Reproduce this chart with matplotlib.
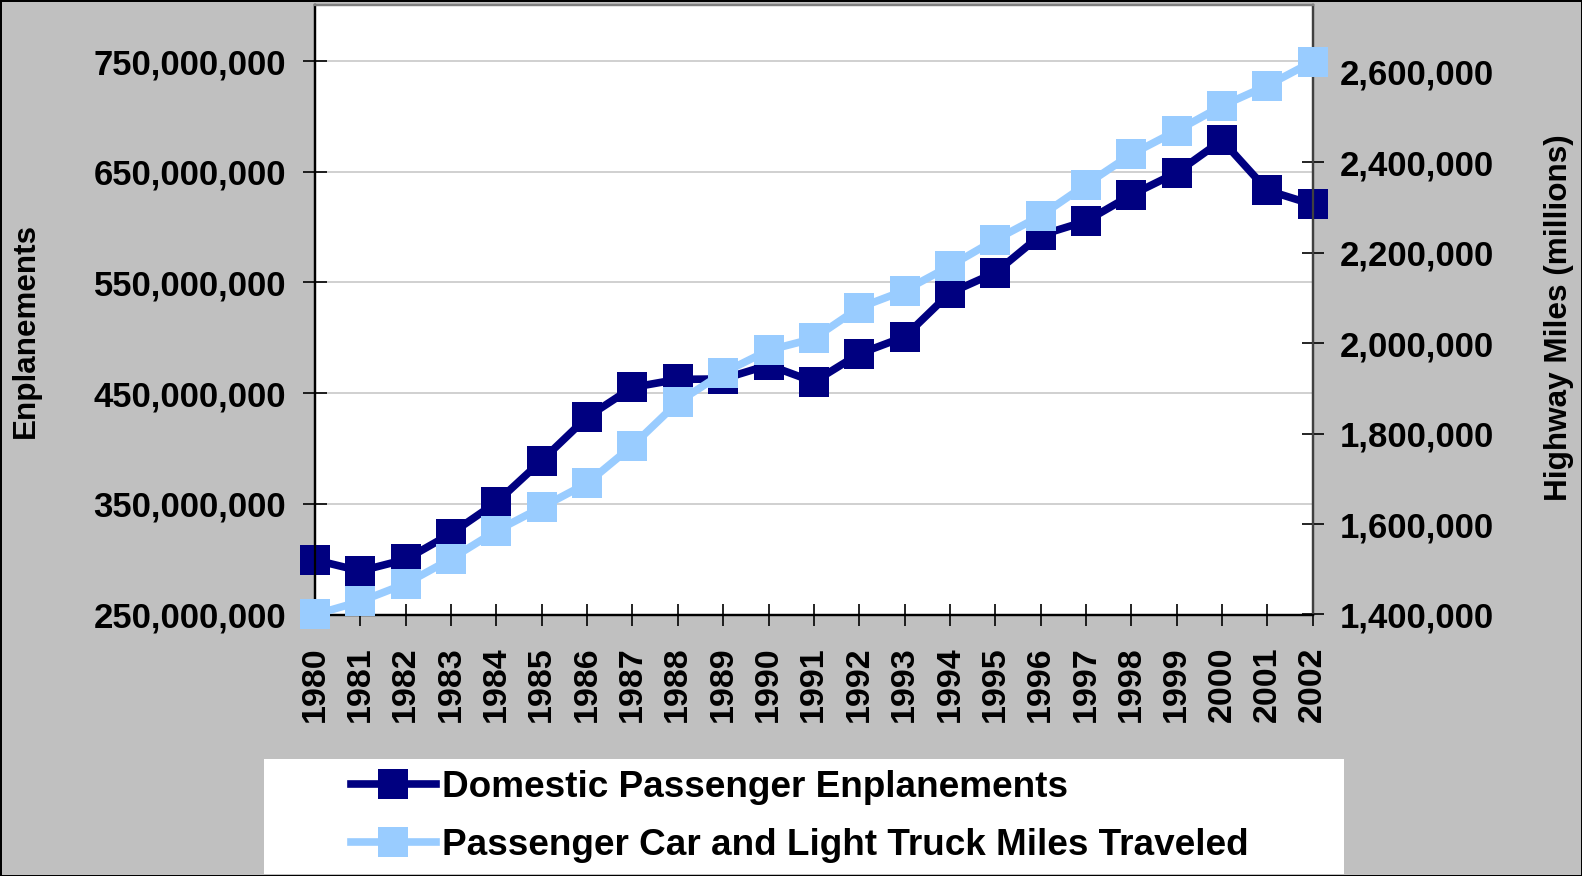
import matplotlib
matplotlib.use("Agg")
import matplotlib.pyplot as plt
from matplotlib.ticker import FuncFormatter
from matplotlib.lines import Line2D

plt.rcParams['font.family'] = ['Liberation Sans', 'DejaVu Sans']
plt.rcParams['font.weight'] = 'bold'

# -------------------- datos --------------------
years = list(range(1980, 2003))
enplanements = [299.3e6, 289.3e6, 299.8e6, 323.1e6, 351.3e6, 389.1e6, 428.3e6,
                455.2e6, 462.4e6, 462.8e6, 475.3e6, 460.2e6, 485.5e6, 500.9e6,
                540.5e6, 558.8e6, 592.6e6, 605.3e6, 629.0e6, 649.1e6, 678.4e6,
                633.2e6, 620.4e6]
highway_miles = [1400e3, 1429e3, 1468e3, 1523e3, 1585e3, 1637e3, 1690e3,
                 1773e3, 1869e3, 1934e3, 1984e3, 2010e3, 2078e3, 2116e3,
                 2170e3, 2228e3, 2281e3, 2350e3, 2417e3, 2469e3, 2524e3,
                 2569e3, 2622e3]
left_ticks = [250e6, 350e6, 450e6, 550e6, 650e6, 750e6]
right_ticks = [1400e3, 1600e3, 1800e3, 2000e3, 2200e3, 2400e3, 2600e3]
label_air = "Domestic Passenger Enplanements"
label_road = "Passenger Car and Light Truck Miles Traveled"

dark = '#000080'
light = '#99CCFF'
gray_bg = '#C0C0C0'

W, H = 1582, 876
fig = plt.figure(figsize=(W / 100, H / 100), dpi=100)
fig.patch.set_facecolor(gray_bg)
fig.patch.set_edgecolor('black')
fig.patch.set_linewidth(2)

# -------------------- ejes --------------------
x0, x1, y_top, y_bot = 315, 1312.7, 5, 614.5
ax = fig.add_axes([x0 / W, 1 - y_bot / H, (x1 - x0) / W, (y_bot - y_top) / H])
ax.set_facecolor('white')
ax2 = ax.twinx()

comma = FuncFormatter(lambda v, p: f"{v:,.0f}")

ax.plot(years, enplanements, color=dark, lw=5.5, marker='s', markersize=21,
        markeredgewidth=0, clip_on=False, zorder=3)
ax2.plot(years, highway_miles, color=light, lw=5.5, marker='s', markersize=21,
         markeredgewidth=0, clip_on=False, zorder=3)

ax.set_xlim(1980, 2002)
ax.set_ylim(250e6, 800.6e6)
ax2.set_ylim(1400e3, 2747e3)

ax.set_xticks(years)
ax.set_xticklabels([str(y) for y in years], rotation=90)
ax.set_yticks(left_ticks)
ax2.set_yticks(right_ticks)
ax.yaxis.set_major_formatter(comma)
ax2.yaxis.set_major_formatter(comma)

ax.yaxis.grid(True, color='#C8C8C8', lw=1.2)
ax.set_axisbelow(True)

ax.tick_params(axis='y', direction='inout', length=17, width=1.2, pad=12.2,
               labelsize=25)
ax.tick_params(axis='x', direction='inout', length=16, width=1.2, pad=14.8,
               labelsize=24.5)
ax2.tick_params(axis='y', direction='inout', length=16, width=1.2, pad=11.8,
                labelsize=25)

for a in (ax, ax2):
    a.spines['left'].set_color('black')
    a.spines['bottom'].set_color('black')
    a.spines['top'].set_color('#808080')
    a.spines['right'].set_color('#404040')
    for s in a.spines.values():
        s.set_linewidth(1.6)

fig.text(26 / W, 1 - 330 / H, "Enplanements", rotation=90, ha='center',
         va='center', fontsize=22.6, fontweight='bold')
fig.text(1559 / W, 1 - 318 / H, "Highway Miles (millions)", rotation=90,
         ha='center', va='center', fontsize=22.7, fontweight='bold')

# -------------------- leyenda --------------------
lx0, lx1, ly0, ly1 = 264, 1344, 759, 874
lax = fig.add_axes([lx0 / W, 1 - ly1 / H, (lx1 - lx0) / W, (ly1 - ly0) / H])
lax.set_facecolor('white')
lax.set_xticks([])
lax.set_yticks([])
for s in lax.spines.values():
    s.set_visible(False)

handles = [Line2D([], [], color=dark, lw=5.5, marker='s', markersize=21, markeredgewidth=0),
           Line2D([], [], color=light, lw=5.5, marker='s', markersize=21, markeredgewidth=0)]
lax.legend(handles, [label_air, label_road], loc='center left',
           bbox_to_anchor=((351 - lx0) / (lx1 - lx0), 0.5), frameon=False,
           handlelength=2.3, handletextpad=0.15, labelspacing=0.62,
           borderpad=0, borderaxespad=0, prop={'weight': 'bold', 'size': 26.6})

fig.savefig("out.png", dpi=100, facecolor=fig.get_facecolor(), edgecolor='black')
